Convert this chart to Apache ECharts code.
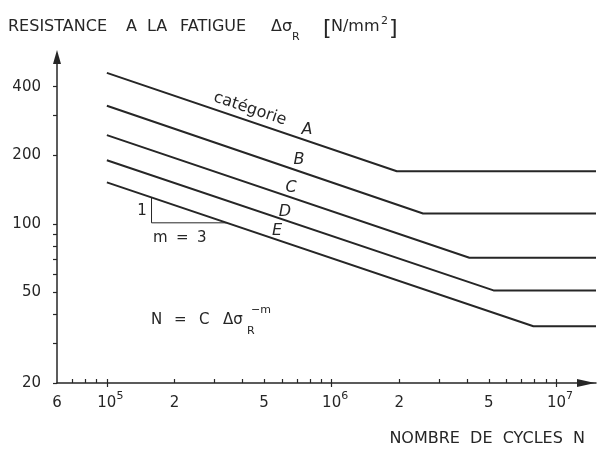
<!DOCTYPE html>
<html>
<head>
<meta charset="utf-8">
<title>Résistance à la fatigue</title>
<script src="https://cdn.jsdelivr.net/npm/echarts@6/dist/echarts.min.js"></script>
<style>
  html, body { margin: 0; padding: 0; background: #fff; }
  #main { width: 597px; height: 449px; }
</style>
</head>
<body>
<div id="main"></div>
<script>
// courbes de fatigue, catégories A à E
const categories = ['A', 'B', 'C', 'D', 'E']
const startCycles = 1e5
const startStress = [460, 330, 245, 190, 152]
const kneeCycles = [1.95e6, 2.55e6, 4.1e6, 5.25e6, 7.9e6]
const kneeStress = [170, 111, 71, 51, 35.5]
const endCycles = 1.5e7

// petit triangle de pente m = 3
const slopeCycles = [1.58e5, 1.58e5, 3.41e5]
const slopeStress = [130, 101, 101]

// graduations
const xMinorTicks = [7e4, 8e4, 9e4, 2e5, 3e5, 4e5, 5e5, 6e5, 7e5, 8e5, 9e5, 2e6, 3e6, 4e6, 5e6, 6e6, 7e6, 8e6, 9e6]
const xDecades = [1e5, 1e6, 1e7]
const xLabelValues = [6e4, 1e5, 2e5, 5e5, 1e6, 2e6, 5e6, 1e7]
const xLabelTexts = ['6', '{sp| }10{sup|5}', '2', '5', '{sp| }10{sup|6}', '2', '5', '{sp| }10{sup|7}']
const yMinorTicks = [30, 40, 60, 70, 80, 90, 300]
const yLabelValues = [20, 50, 100, 200, 400]

const ink = '#262626'
const font = 'DejaVu Sans'

function xLabel (v) {
    const i = xLabelValues.findIndex((t) => Math.abs(t - v) / t < 1e-6)
    return i >= 0 ? xLabelTexts[i] : ''
}

// texte libre (titres, annotations)
function txt (x, y, text, extra) {
    return {
        type: 'text',
        x: x,
        y: y,
        silent: true,
        rotation: (extra && extra.rotation) || 0,
        style: Object.assign({
            text: text,
            fill: ink,
            fontSize: 15,
            fontFamily: font,
            align: 'left',
            verticalAlign: 'middle'
        }, extra && extra.style)
    }
}

const series = categories.map((name, i) => {
    return {
        name: name,
        type: 'line',
        xAxisIndex: 0,
        yAxisIndex: 0,
        symbol: 'none',
        silent: true,
        clip: false,
        lineStyle: { color: ink, width: 2 },
        data: [
            [startCycles, startStress[i]],
            [kneeCycles[i], kneeStress[i]],
            [endCycles, kneeStress[i]]
        ]
    }
})
series.push({
    name: 'pente',
    type: 'line',
    symbol: 'none',
    silent: true,
    lineStyle: { color: ink, width: 1 },
    data: slopeCycles.map((n, i) => [n, slopeStress[i]])
})

const big = { style: { fontSize: 16 } }

const option = {
    animation: false,
    backgroundColor: '#fff',
    grid: { left: 57, right: 1, top: 57, bottom: 66 },
    xAxis: [
        {
            type: 'log',
            min: 6e4,
            max: 1.5e7,
            position: 'bottom',
            axisLine: {
                onZero: false,
                lineStyle: { color: ink, width: 1.5 },
                symbol: ['none', 'triangle'],
                symbolSize: [8, 18],
                symbolOffset: [0, -10]
            },
            axisTick: { customValues: xDecades, length: 4, lineStyle: { color: ink, width: 1.2 } },
            axisLabel: {
                customValues: xLabelValues,
                formatter: xLabel,
                color: ink,
                fontSize: 15,
                fontFamily: font,
                lineHeight: 24,
                margin: 8,
                rich: {
                    sup: { fontSize: 11, fontFamily: font, color: ink, lineHeight: 12, verticalAlign: 'top' },
                    sp: { width: 7, fontSize: 11 }
                }
            },
            splitLine: { show: false }
        },
        {
            type: 'log',
            min: 6e4,
            max: 1.5e7,
            position: 'bottom',
            axisLine: { show: false, onZero: false },
            axisTick: { customValues: xMinorTicks.concat(xDecades), inside: true, length: 4, lineStyle: { color: ink, width: 1.2 } },
            axisLabel: { show: false },
            splitLine: { show: false }
        }
    ],
    yAxis: {
        type: 'log',
        min: 20,
        max: 540,
        axisLine: {
            show: true,
            onZero: false,
            lineStyle: { color: ink, width: 1.5 },
            symbol: ['none', 'triangle'],
            symbolSize: [8, 14],
            symbolOffset: [0, 0]
        },
        axisTick: { show: true, customValues: yMinorTicks.concat(yLabelValues), length: 4, lineStyle: { color: ink, width: 1.2 } },
        axisLabel: { customValues: yLabelValues, color: ink, fontSize: 15, fontFamily: font, margin: 16 },
        splitLine: { show: false }
    },
    series: series,
    graphic: [
        // titre de l'axe vertical
        txt(8, 27, 'RESISTANCE', big),
        txt(126, 27, 'A', big),
        txt(147, 27, 'LA', big),
        txt(180, 27, 'FATIGUE', big),
        txt(271, 27, 'Δσ', big),
        txt(292, 37, 'R', { style: { fontSize: 11 } }),
        txt(323, 29, '[', { style: { fontSize: 22 } }),
        txt(331, 27, 'N/mm', big),
        txt(381, 21, '2', { style: { fontSize: 11 } }),
        txt(389, 29, ']', { style: { fontSize: 22 } }),
        // titre de l'axe horizontal
        txt(585, 439, 'NOMBRE  DE  CYCLES  N', { style: { align: 'right', fontSize: 16 } }),
        // catégories
        txt(250, 109, 'catégorie', { rotation: -0.32, style: { align: 'center', fontSize: 16 } }),
        txt(307, 130, 'A', { style: { align: 'center', fontStyle: 'italic', fontSize: 16 } }),
        txt(299, 160, 'B', { style: { align: 'center', fontStyle: 'italic', fontSize: 16 } }),
        txt(291, 188, 'C', { style: { align: 'center', fontStyle: 'italic', fontSize: 16 } }),
        txt(285, 212, 'D', { style: { align: 'center', fontStyle: 'italic', fontSize: 16 } }),
        txt(277, 231, 'E', { style: { align: 'center', fontStyle: 'italic', fontSize: 16 } }),
        // pente
        txt(142, 211, '1', { style: { align: 'center' } }),
        txt(153, 238, 'm'),
        txt(176, 238, '='),
        txt(197, 238, '3'),
        // formule
        txt(151, 320, 'N'),
        txt(174, 320, '='),
        txt(199, 320, 'C'),
        txt(223, 320, 'Δσ'),
        txt(247, 331, 'R', { style: { fontSize: 11 } }),
        txt(251, 310, '−m', { style: { fontSize: 11 } })
    ]
}

const myChart = echarts.init(document.getElementById('main'), null, { renderer: 'canvas' })
myChart.setOption(option)
</script>
</body>
</html>
